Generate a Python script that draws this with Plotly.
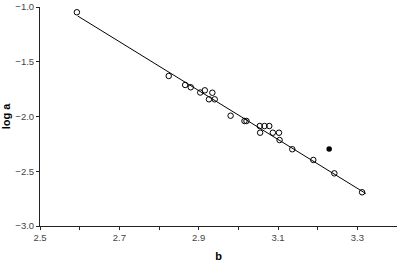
import plotly.graph_objects as go

# open circles (b, log a)
b_open = [2.593, 2.8245, 2.866, 2.880, 2.904, 2.9155, 2.9345, 2.926, 2.9405,
          2.9805, 3.0155, 3.0205, 3.054, 3.066, 3.078, 3.055, 3.087, 3.1025,
          3.104, 3.136, 3.189, 3.242, 3.312]
loga_open = [-1.048, -1.630, -1.712, -1.733, -1.781, -1.761, -1.783, -1.843, -1.843,
             -1.993, -2.041, -2.041, -2.087, -2.087, -2.087, -2.148, -2.148, -2.148,
             -2.215, -2.299, -2.397, -2.519, -2.692]
# filled outlier
b_filled = [3.229]
loga_filled = [-2.297]
# regression line endpoints
b_fit = [2.595, 3.321]
loga_fit = [-1.082, -2.703]

x_tickvals = [2.5, 2.6, 2.7, 2.8, 2.9, 3.0, 3.1, 3.2, 3.3, 3.4]
x_ticktext = ["2.5", "", "2.7", "", "2.9", "", "3.1", "", "3.3", ""]
y_tickvals = [-1.0, -1.5, -2.0, -2.5, -3.0]
y_ticktext = ["\u22121.0", "\u22121.5", "\u22122.0", "\u22122.5", "\u22123.0"]

fig = go.Figure()
fig.add_trace(go.Scatter(x=b_fit, y=loga_fit, mode="lines",
                         line=dict(color="black", width=1), hoverinfo="skip"))
fig.add_trace(go.Scatter(x=b_open, y=loga_open, mode="markers",
                         marker=dict(symbol="circle-open", size=5.5, color="black",
                                     line=dict(width=1, color="black"))))
fig.add_trace(go.Scatter(x=b_filled, y=loga_filled, mode="markers",
                         marker=dict(symbol="circle", size=5.5, color="black")))

font_family = "Liberation Sans, Arial, sans-serif"
fig.update_layout(
    width=397, height=262,
    margin=dict(l=39.5, r=0, t=7, b=36),
    paper_bgcolor="white", plot_bgcolor="white",
    showlegend=False,
    font=dict(family=font_family, size=9, color="#333"),
    xaxis=dict(range=[2.5, 3.4], tickvals=x_tickvals, ticktext=x_ticktext,
               showgrid=False, zeroline=False, showline=True, linecolor="#222",
               linewidth=1, ticks="outside", ticklen=3, tickcolor="#222",
               tickfont=dict(size=9.5, color="#444"),
               title=dict(text="<b>b</b>", font=dict(size=11, color="black"), standoff=12)),
    yaxis=dict(range=[-3.0, -1.0], tickvals=y_tickvals, ticktext=y_ticktext,
               showgrid=False, zeroline=False, showline=True, linecolor="#222",
               linewidth=1, ticks="outside", ticklen=3, tickcolor="#222",
               tickfont=dict(size=9.5, color="#444"),
               title=dict(text="<b>log a</b>", font=dict(size=11, color="black"), standoff=3)),
)
fig.write_html("out.html")
